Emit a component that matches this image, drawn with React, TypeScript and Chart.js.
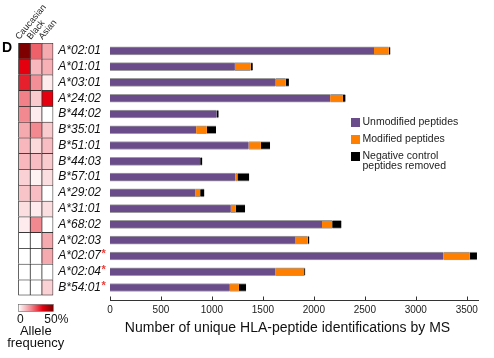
import React, { useEffect, useRef } from "react";
import { Chart, registerables } from "chart.js";

Chart.register(...registerables);

const FONT = "'Liberation Sans', Arial, Helvetica, sans-serif";

// ---- data ----
const alleles = [
  "A*02:01", "A*01:01", "A*03:01", "A*24:02", "B*44:02", "B*35:01", "B*51:01", "B*44:03",
  "B*57:01", "A*29:02", "A*31:01", "A*68:02", "A*02:03", "A*02:07", "A*02:04", "B*54:01",
];
const flagged = ["A*02:07", "A*02:04", "B*54:01"];
const unmodified = [2590, 1225, 1625, 2160, 1045, 845, 1360, 885, 1230, 835, 1185, 2080, 1815, 3270, 1620, 1175];
const modified = [145, 155, 100, 125, 0, 105, 120, 0, 20, 50, 50, 100, 125, 260, 285, 90];
const negControl = [15, 20, 30, 25, 20, 90, 90, 20, 115, 40, 90, 90, 15, 70, 10, 70];
const seriesLabels = [["Unmodified peptides"], ["Modified peptides"], ["Negative control", "peptides removed"]];
const xTitle = "Number of unique HLA-peptide identifications by MS";
const xMax = 3620;
const xTickValues = [0, 500, 1000, 1500, 2000, 2500, 3000, 3500];

const populations = ["Caucasian", "Black", "Asian"];
// allele frequency, % (scale 0 - 50%)
const caucasian = [49, 35, 31, 19, 18, 13, 11, 11, 7, 9, 5, 3, 0, 0, 0, 0];
const black = [23, 11, 17, 8, 3, 18, 6, 10, 2, 10, 3, 18, 0, 0, 0, 0];
const asian = [13, 12, 3, 35, 0, 8, 10, 8, 5, 0, 5, 0, 13, 13, 0, 7];
const freqMax = 50;
const freqTickLabels = ["0", "50%"];

// ---- styles ----
const COLORS = ["#6a4c8b", "#ff8000", "#000000"];
const STOPS: [number, number[]][] = [
  [0, [255, 255, 255]],
  [0.35, [242, 140, 148]],
  [0.7, [228, 0, 15]],
  [1, [120, 0, 0]],
];

function heatColor(f: number) {
  const t = Math.max(0, Math.min(1, f / freqMax));
  for (let i = 1; i < STOPS.length; i++) {
    const [t1, c1] = STOPS[i];
    const [t0, c0] = STOPS[i - 1];
    if (t <= t1) {
      const u = (t - t0) / (t1 - t0);
      const c = c0.map((v, k) => Math.round(v + (c1[k] - v) * u));
      return `rgb(${c[0]},${c[1]},${c[2]})`;
    }
  }
  return "rgb(120,0,0)";
}

const mainOverlay = {
  id: "mainOverlay",
  afterDraw(chart: any) {
    const { ctx, chartArea, scales } = chart;
    const x = scales.x;
    const y = scales.y;
    const axisY = Math.round(chartArea.bottom + 5) + 0.5;
    ctx.save();
    ctx.strokeStyle = "#333";
    ctx.lineWidth = 1;
    ctx.beginPath();
    ctx.moveTo(chartArea.left, axisY);
    ctx.lineTo(chartArea.right, axisY);
    x.ticks.forEach((t: any) => {
      const px = Math.round(x.getPixelForValue(t.value)) + 0.5;
      ctx.moveTo(px, axisY - 4);
      ctx.lineTo(px, axisY);
    });
    ctx.stroke();

    // axis title
    ctx.fillStyle = "#111";
    ctx.font = `14px ${FONT}`;
    ctx.textAlign = "center";
    ctx.textBaseline = "middle";
    ctx.fillText(xTitle, (chartArea.left + chartArea.right) / 2 - 7, 328);

    // red asterisks after flagged alleles
    ctx.fillStyle = "#ee3b36";
    ctx.font = `bold 11px ${FONT}`;
    ctx.textAlign = "left";
    ctx.textBaseline = "middle";
    alleles.forEach((a, i) => {
      if (flagged.includes(a)) {
        ctx.fillText("*", chartArea.left - y.options.ticks.padding + 0.5, y.getPixelForValue(i) - 2);
      }
    });

    // legend
    const lx = 351;
    let ly = 122.5;
    ctx.font = `10.5px ${FONT}`;
    chart.data.datasets.forEach((ds: any, i: number) => {
      ctx.fillStyle = ds.backgroundColor;
      ctx.fillRect(lx, ly - 4.5, 9, 9);
      ctx.fillStyle = "#222";
      seriesLabels[i].forEach((line, k) => ctx.fillText(line, lx + 11.5, ly + k * 10));
      ly += 17;
    });
    ctx.restore();
  },
};

const heatOverlay = {
  id: "heatOverlay",
  afterDraw(chart: any) {
    const { ctx, chartArea, scales } = chart;
    const x = scales.x;
    ctx.save();
    // panel letter
    ctx.fillStyle = "#000";
    ctx.font = `bold 14px ${FONT}`;
    ctx.textAlign = "left";
    ctx.textBaseline = "alphabetic";
    ctx.fillText("D", 2, 52);

    // rotated column headers
    ctx.fillStyle = "#222";
    ctx.font = `9px ${FONT}`;
    populations.forEach((p, j) => {
      ctx.save();
      ctx.translate(x.getPixelForValue(j) - 5, chartArea.top - 3);
      ctx.rotate((-50 * Math.PI) / 180);
      ctx.fillText(p, 0, 0);
      ctx.restore();
    });

    // colour bar
    const top = chartArea.bottom + 9;
    const h = 7;
    const g = ctx.createLinearGradient(chartArea.left, 0, chartArea.right, 0);
    for (let k = 0; k <= 20; k++) g.addColorStop(k / 20, heatColor((k / 20) * freqMax));
    ctx.fillStyle = g;
    ctx.fillRect(chartArea.left, top, chartArea.right - chartArea.left, h);
    ctx.strokeStyle = "#666";
    ctx.lineWidth = 0.6;
    ctx.strokeRect(chartArea.left, top, chartArea.right - chartArea.left, h);

    ctx.fillStyle = "#111";
    ctx.font = `12px ${FONT}`;
    ctx.textBaseline = "middle";
    ctx.textAlign = "center";
    ctx.fillText(freqTickLabels[0], chartArea.left + 2, top + h + 8);
    ctx.fillText(freqTickLabels[1], chartArea.right + 3, top + h + 8);
    ctx.font = `13px ${FONT}`;
    const cx = (chartArea.left + chartArea.right) / 2;
    ctx.fillText("Allele", cx, top + h + 20);
    ctx.fillText("frequency", cx, top + h + 32);
    ctx.restore();
  },
};

export default function App() {
  const mainRef = useRef<HTMLCanvasElement>(null);
  const heatRef = useRef<HTMLCanvasElement>(null);

  useEffect(() => {
    Chart.defaults.font.family = FONT;
    const main = new Chart(mainRef.current!, {
      type: "bar",
      data: {
        labels: alleles,
        datasets: [unmodified, modified, negControl].map((d, i) => ({
          label: seriesLabels[i].join(" "),
          data: d,
          backgroundColor: COLORS[i],
          borderColor: "rgba(140,140,140,0.85)",
          borderWidth: { top: 1, bottom: 1, left: 0, right: 0 },
          borderSkipped: false,
          barThickness: 8,
        })),
      },
      options: {
        indexAxis: "y",
        animation: false,
        responsive: false,
        maintainAspectRatio: false,
        layout: { padding: { top: 43, right: 15, left: 0, bottom: 0 } },
        plugins: { legend: { display: false }, tooltip: { enabled: false } },
        scales: {
          x: {
            stacked: true,
            min: 0,
            max: xMax,
            grid: { display: false, drawTicks: false },
            border: { display: false },
            afterBuildTicks: (s: any) => {
              s.ticks = xTickValues.map((v) => ({ value: v }));
            },
            ticks: {
              padding: 9,
              color: "#222",
              font: { size: 10 },
              maxRotation: 0,
              autoSkip: false,
              callback: (v: any) => String(v),
            },
            afterFit: (s: any) => {
              s.height = 62.6;
              s.paddingLeft = 0;
              s.paddingRight = 0;
            },
          },
          y: {
            stacked: true,
            grid: { display: false, drawTicks: false },
            border: { display: false },
            ticks: { padding: 9, color: "#111", font: { size: 12, style: "italic" }, autoSkip: false },
            afterFit: (s: any) => {
              s.width = 110;
            },
          },
        },
      },
      plugins: [mainOverlay],
    });

    const freqs = alleles.map((_, i) => [caucasian[i], black[i], asian[i]]);
    const heat = new Chart(heatRef.current!, {
      type: "bar",
      data: {
        labels: populations,
        datasets: alleles.map((a, i) => ({
          label: a,
          data: populations.map(() => [i, i + 1]),
          backgroundColor: freqs[i].map(heatColor),
          borderColor: "#1e1e1e",
          borderWidth: (c: any) => ({
            top: 1,
            left: 1,
            right: c.dataIndex === populations.length - 1 ? 1 : 0,
            bottom: i === alleles.length - 1 ? 1 : 0,
          }),
          borderSkipped: false,
          barPercentage: 1,
          categoryPercentage: 1,
          grouped: false,
        })),
      },
      options: {
        animation: false,
        responsive: false,
        maintainAspectRatio: false,
        layout: { padding: { left: 18.3, right: 100 - 53.3, top: 0, bottom: 358 - 295.4 } },
        plugins: { legend: { display: false }, tooltip: { enabled: false } },
        scales: {
          x: {
            position: "top",
            grid: { display: false, drawTicks: false },
            border: { display: false },
            ticks: { display: false },
            afterFit: (s: any) => {
              s.height = 42.9;
              s.paddingLeft = 0;
              s.paddingRight = 0;
            },
          },
          y: { display: false, min: 0, max: alleles.length, reverse: true },
        },
      },
      plugins: [heatOverlay],
    });

    return () => {
      main.destroy();
      heat.destroy();
    };
  }, []);

  return (
    <div style={{ position: "absolute", left: 0, top: 0, width: 494, height: 358, background: "#fff" }}>
      <canvas ref={mainRef} width={494} height={358} style={{ position: "absolute", left: 0, top: 0, width: 494, height: 358 }} />
      <canvas ref={heatRef} width={100} height={358} style={{ position: "absolute", left: 0, top: 0, width: 100, height: 358 }} />
    </div>
  );
}
